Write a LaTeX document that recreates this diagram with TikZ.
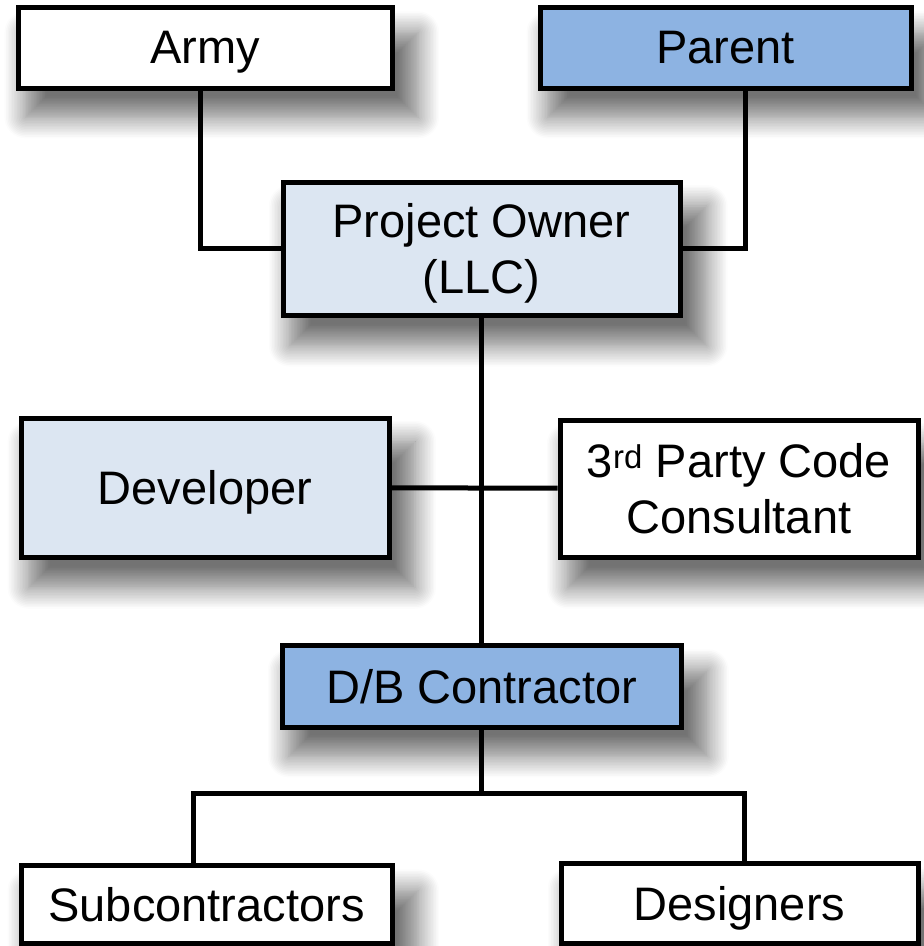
\documentclass[tikz,border=0pt]{standalone}
\usepackage{fontspec}
\setmainfont{Liberation Sans}
\usetikzlibrary{shadows.blur}
\definecolor{paleblue}{RGB}{220,230,242}
\definecolor{midblue}{RGB}{141,179,226}
\begin{document}
\begin{tikzpicture}[x=1pt, y=-1pt]
\tikzstyle{boite} = [draw, line width=5pt, fill=white, align=center, inner sep=0pt,
  text depth=0pt, font=\fontsize{47}{56}\selectfont,
  blur shadow={shadow xshift=16pt, shadow yshift=-26pt, shadow scale=1.05,
    shadow blur radius=20pt, shadow blur steps=14, shadow opacity=55}];
\tikzstyle{lien} = [line width=5pt];
\useasboundingbox (0,0) rectangle (924,946);

\node[boite, minimum width=374pt, minimum height=81pt] (army) at (205, 47.5) {Army};
\node[boite, fill=midblue, minimum width=371pt, minimum height=81pt] (parent) at (725.5, 47.5) {Parent};
\node[boite, fill=paleblue, minimum width=397pt, minimum height=133pt] (owner) at (481.5, 248.5) {Project Owner\\(LLC)};
\node[boite, fill=paleblue, minimum width=368pt, minimum height=139pt] (dev) at (205, 487.5) {Developer};
\node[boite, minimum width=358pt, minimum height=137pt] (consult) at (739, 488.5) {3\textsuperscript{rd} Party Code\\Consultant};
\node[boite, fill=midblue, minimum width=399pt, minimum height=82pt] (db) at (481.5, 686) {D/B Contractor};
\node[boite, minimum width=371pt, minimum height=78pt] (sub) at (206.5, 904) {Subcontractors};
\node[boite, minimum width=357pt, minimum height=80pt] (des) at (739.5, 903) {Designers};
\coordinate (fork) at (481.5, 793);

\draw[lien] ([xshift=-5pt]army.south) |- (owner.west);
\draw[lien] ([xshift=20pt]parent.south) |- (owner.east);
\draw[lien] (owner) -- (db);
\draw[lien] (dev) -- (consult);
\draw[lien] (db) -- (fork);
\draw[lien] (fork) -| ([xshift=-13pt]sub.north);
\draw[lien] (fork) -| ([xshift=5pt]des.north);
\end{tikzpicture}
\end{document}
